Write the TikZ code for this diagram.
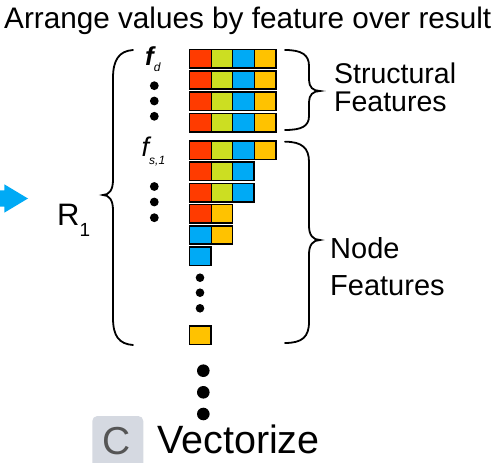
\documentclass[tikz,border=0pt]{standalone}
\usepackage{fontspec}
\setmainfont{Liberation Sans}
\definecolor{cR}{RGB}{255,59,0}
\definecolor{cG}{RGB}{204,222,34}
\definecolor{cB}{RGB}{0,170,245}
\definecolor{cY}{RGB}{255,194,0}
\definecolor{boxgray}{RGB}{213,217,225}
\definecolor{cgray}{RGB}{85,85,85}
\newcommand\featrow[3]{% top y, number of cells, colour list
  \foreach \cc [count=\ii from 0] in {#3} {
    \filldraw[fill=\cc, draw=black, line width=1pt] (189.5+21.55*\ii,#1) rectangle ++(21.55,18.4);
  }
  \draw[line width=1.6pt] (189.5,#1) rectangle ++(21.55*#2,18.4);
}
\tikzset{
  lbl/.style={inner sep=0pt, anchor=base west},
  brace/.style={line width=1.8pt, line cap=round},
  sdot/.style={fill=black},
}
\begin{document}
\begin{tikzpicture}[x=1pt,y=-1pt]
\useasboundingbox (0,0) rectangle (494,462);
% title
\node[lbl] (title) at (4,28.3) {\fontsize{29.7}{30}\selectfont Arrange values by feature over result};
% blue arrow
\fill[cB] (0,190.3) -- (4.3,190.3) -- (4.3,184.3) -- (28,198.5) -- (4.3,212.7) -- (4.3,206.7) -- (0,206.7) -- cycle;
% R1
\node[lbl] (r1) at (57,225) {\fontsize{31}{32}\selectfont R\raisebox{-0.38em}{\fontsize{19}{20}\selectfont 1}};
% big left brace
\draw[brace] (133,50) .. controls (119,51) and (113,60) .. (113,78) -- (113,180)
  .. controls (113,190) and (109,195) .. (103,195)
  .. controls (109,195) and (113,200) .. (113,210) -- (113,318)
  .. controls (113,336) and (119,344) .. (133,345);
% f labels
\node[lbl] (fd) at (145,66) {\fontsize{26}{26}\selectfont\bfseries\itshape f\raisebox{-0.2em}{\fontsize{12}{12}\selectfont\mdseries d}};
\node[lbl] (fs) at (141.5,156.7) {\fontsize{27}{27}\selectfont\itshape f\raisebox{-0.3em}{\fontsize{12}{12}\selectfont s,1}};
% small dots left column
\foreach \yy in {85.7,101,116.3,186.5,202,217.7} \fill[sdot] (154.3,\yy) circle (4.4pt);
% structural rows
\foreach \tt in {49.5,70.8,92.1,113.4} {\featrow{\tt}{4}{cR,cG,cB,cY}}
% node rows
\featrow{141}{4}{cR,cG,cB,cY}
\featrow{162.2}{3}{cR,cG,cB}
\featrow{183.4}{3}{cR,cG,cB}
\featrow{204.6}{2}{cR,cY}
\featrow{225.8}{2}{cB,cY}
\featrow{247}{1}{cB}
\featrow{326}{1}{cY}
% middle dots
\foreach \yy in {277.7,292.7,308.3} \fill[sdot] (200,\yy) circle (4.3pt);
% bottom dots
\foreach \yy in {370.7,392.3,414} \fill[sdot] (203.3,\yy) circle (6.3pt);
% structural brace
\draw[brace] (285,50) .. controls (302,50) and (309,55) .. (309,66) -- (309,80)
  .. controls (309,87) and (313,91) .. (320,91)
  .. controls (313,91) and (309,95) .. (309,102) -- (309,116)
  .. controls (309,126) and (302,130) .. (285,130);
\node[lbl] (st1) at (334,83.3) {\fontsize{28.5}{29}\selectfont Structural};
\node[lbl] (st2) at (334,111.7) {\fontsize{28.5}{29}\selectfont Features};
% node brace
\draw[brace] (285,141.7) .. controls (302,141.7) and (309,148) .. (309,162) -- (309,226)
  .. controls (309,235) and (313,240) .. (320,240)
  .. controls (313,240) and (309,245) .. (309,254) -- (309,322)
  .. controls (309,337) and (302,343) .. (285,343);
\node[lbl] (nf1) at (330,258.3) {\fontsize{29}{29}\selectfont Node};
\node[lbl] (nf2) at (330,295) {\fontsize{29}{29}\selectfont Features};
% C Vectorize
\fill[boxgray, rounded corners=5pt] (92.3,416) rectangle (143.3,475);
\node[lbl, text=cgray] (cl) at (102.5,454) {\fontsize{39}{39}\selectfont C};
\node[lbl] (vec) at (157,453.5) {\fontsize{39.5}{40}\selectfont Vectorize};
\end{tikzpicture}
\end{document}
